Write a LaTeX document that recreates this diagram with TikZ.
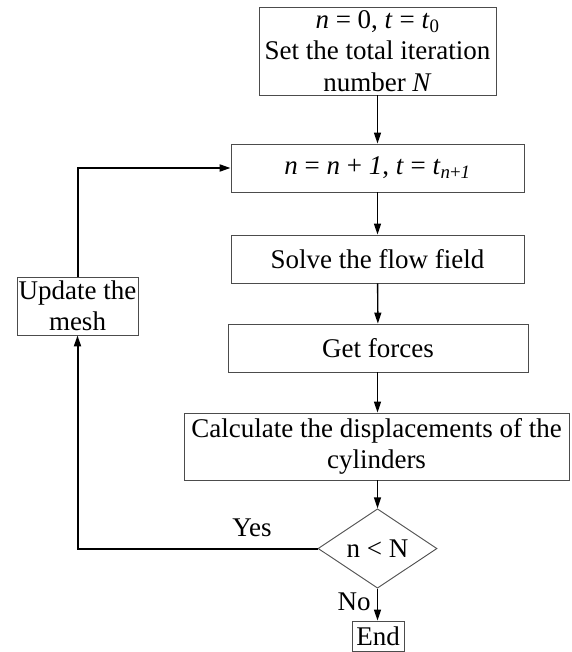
\documentclass[tikz,border=0pt]{standalone}
\usepackage{fontspec}
\setmainfont{Liberation Serif}
\usetikzlibrary{arrows.meta,shapes.geometric}
\begin{document}
\begin{tikzpicture}[x=1pt,y=-1pt,
  every node/.style={font=\fontsize{27}{31.5}\selectfont},
  box/.style={draw=black!70, line width=0.9pt, inner sep=0pt, align=center},
  arr/.style={line width=1.4pt, -{Triangle[length=11pt,width=7pt]}},
  looparr/.style={line width=2pt, -{Triangle[length=11pt,width=7pt]}},
  lbl/.style={inner sep=0pt}]
\useasboundingbox (0,0) rectangle (571,652);
\node[box, minimum width=237pt, minimum height=88pt] (top) at (377.5,51)
  {\textit{n} = 0, \textit{t} = \textit{t}\textsubscript{0}\\Set the total iteration\\number \textit{N}};
\node[box, minimum width=293pt, minimum height=48pt] (b2) at (377.5,168)
  {\textit{n} = \textit{n} + \textit{1}, \textit{t} = \textit{t}\textsubscript{\textit{n}+\textit{1}}};
\node[box, minimum width=293pt, minimum height=48pt] (solve) at (377.5,259)
  {Solve the flow field};
\node[box, minimum width=300pt, minimum height=48pt] (forces) at (378,348)
  {Get forces};
\node[box, minimum width=385pt, minimum height=67pt] (calc) at (376.5,446.5)
  {Calculate the displacements of the\\cylinders};
\node[box, shape=diamond, minimum width=119pt, minimum height=69pt] (dia) at (377.5,548.5)
  {n {\textless} N};
\node[box, minimum width=52pt, minimum height=30pt] (end) at (378,636)
  {End};
\node[box, minimum width=121pt, minimum height=58pt] (mesh) at (77.5,306)
  {Update the\\mesh};
\node[lbl] (yes) at (252,528) {Yes};
\node[lbl] (no) at (354,602) {No};
\draw[arr] (top) -- (b2);
\draw[arr] (b2) -- (solve);
\draw[arr] (solve) -- (forces);
\draw[arr] (forces.south -| dia.north) -- (calc.north -| dia.north);
\draw[arr] (calc.south -| dia.north) -- (dia.north);
\draw[arr] (dia.south) -- (end.north -| dia.south);
\draw[looparr] (dia.west) -| (mesh.south);
\draw[looparr] (mesh.north) |- (b2.west);
\end{tikzpicture}
\end{document}
